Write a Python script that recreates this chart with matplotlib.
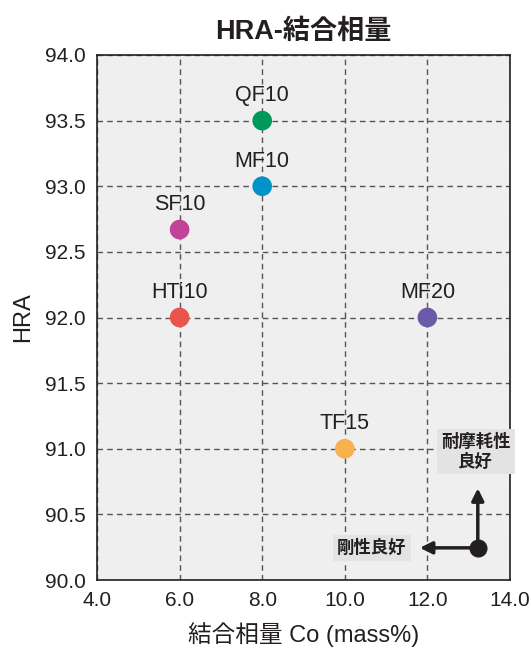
import matplotlib
matplotlib.use("Agg")
import matplotlib.pyplot as plt

plt.rcParams['font.family'] = ['Liberation Sans', 'Noto Sans CJK JP', 'DejaVu Sans']

# data
names = ["QF10", "MF10", "SF10", "HTi10", "MF20", "TF15"]
co = [8.0, 8.0, 6.0, 6.0, 12.0, 10.0]
hra = [93.5, 93.0, 92.67, 92.0, 92.0, 91.0]
colors = ["#00995a", "#0093c9", "#c2449a", "#e9554a", "#6a5aa8", "#f9b04f"]
x_ticks = [4.0, 6.0, 8.0, 10.0, 12.0, 14.0]
y_ticks = [90.0, 90.5, 91.0, 91.5, 92.0, 92.5, 93.0, 93.5, 94.0]

fig = plt.figure(figsize=(5.31, 6.5), dpi=100)
ax = fig.add_axes([97 / 531, 70 / 650, 413 / 531, 525 / 650])
ax.set_facecolor("#efefef")

ax.set_xlim(4, 14)
ax.set_ylim(90, 94)
ax.set_xticks(x_ticks)
ax.set_yticks(y_ticks)
ax.set_xticklabels([f"{v:.1f}" for v in x_ticks])
ax.set_yticklabels([f"{v:.1f}" for v in y_ticks])
ax.tick_params(length=0, labelsize=15, colors="#231f20", pad=8)
ax.grid(True, linestyle=(0, (4, 3)), color="#555555", linewidth=1)
ax.set_axisbelow(True)
for s in ax.spines.values():
    s.set_color("#231f20")
    s.set_linewidth(1.2)

ax.scatter(co, hra, s=200, c=colors, zorder=3, linewidths=0)
for n, x, y in zip(names, co, hra):
    ax.text(x, y + 0.11, n, ha="center", va="bottom", fontsize=15.5, color="#231f20")

# direction marker
ox, oy = 13.22, 90.245
ax.plot(ox, oy, "o", color="#231f20", markersize=12, zorder=4)
ax.annotate("", xy=(ox, 90.72), xytext=(ox, oy),
            arrowprops=dict(arrowstyle="-|>", color="#231f20", lw=2.5, mutation_scale=18))
ax.annotate("", xy=(11.75, oy), xytext=(ox, oy),
            arrowprops=dict(arrowstyle="-|>", color="#231f20", lw=2.5, mutation_scale=18))
ax.text(10.65, oy, "剛性良好", ha="center", va="center", fontsize=12.5, color="#231f20",
        fontweight="bold",
        bbox=dict(facecolor="#e3e3e3", edgecolor="none", pad=3))
ax.text(ox - 0.05, 90.98, "耐摩耗性\n良好", ha="center", va="center", fontsize=12.5,
        color="#231f20", linespacing=1.15, fontweight="bold",
        bbox=dict(facecolor="#e3e3e3", edgecolor="none", pad=3))

ax.set_title("HRA-結合相量", fontsize=19.5, fontweight="bold", color="#231f20", pad=12)
ax.set_xlabel("結合相量 Co (mass%)", fontsize=17, color="#231f20", labelpad=9)
ax.set_ylabel("HRA", fontsize=17, color="#231f20", labelpad=8)

plt.savefig("out.png", dpi=100)
